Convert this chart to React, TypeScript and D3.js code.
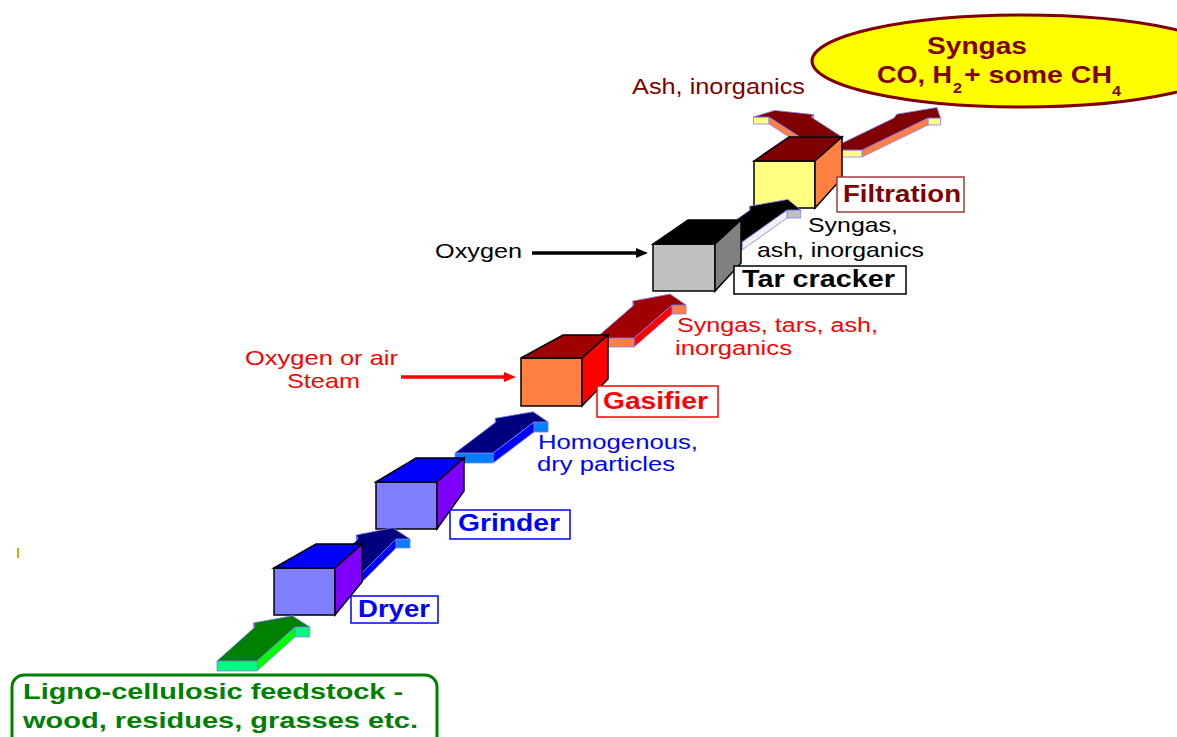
import React, { useEffect, useRef } from 'react';
import * as d3 from 'd3';

// process steps, bottom to top
const stages = ['Dryer', 'Grinder', 'Gasifier', 'Tar cracker', 'Filtration'];
// what flows out of each step
const streamLabels = [
    ['Homogenous,', 'dry particles'],
    ['Syngas, tars, ash,', 'inorganics'],
    ['Syngas,', 'ash, inorganics'],
];
const oxidantLabels = [['Oxygen or air', 'Steam'], ['Oxygen']];
const feedLabel = ['Ligno-cellulosic feedstock -', 'wood, residues, grasses etc.'];
const wasteLabel = 'Ash, inorganics';
const productTitle = 'Syngas';
const productParts = ['CO, H', '2', '+ some CH', '4'];

// ---- layout (pixels) ----
const FONT = '"Liberation Sans", Arial, sans-serif';

// front rect [x,y,w,h], back [topLeftX, topRightX, topY, bottomRightY], colours [front, top, side]
const boxGeom = [
    { f: [274, 568, 61, 47], b: [316, 362, 544, 582], c: ['#8080FF', '#0000FF', '#8000FF'] },
    { f: [376, 482, 61, 47], b: [416, 464, 458, 491], c: ['#8080FF', '#0000FF', '#8000FF'] },
    { f: [521, 358, 61, 48], b: [563, 608, 335, 379], c: ['#FF8040', '#A00000', '#FF0000'] },
    { f: [653, 244, 62, 47], b: [688, 741, 220, 263], c: ['#C0C0C0', '#000000', '#808080'] },
    { f: [754, 161, 61, 47], b: [789, 842, 137, 178], c: ['#FFFF80', '#800000', '#FF8040'] },
];

// stage label boxes [x,y,w,h], text [x, baseline, width], colour, border
const stageLabelGeom = [
    { r: [351, 596, 87, 27], t: [358, 617, 72], fill: '#0000FF', border: '#0000FF' },
    { r: [450, 510, 120, 29], t: [458, 531, 102], fill: '#0000FF', border: '#0000FF' },
    { r: [597, 386, 121, 31], t: [603, 409, 105], fill: '#FF0000', border: '#FF0000' },
    { r: [734, 266, 172, 28], t: [742, 287, 153], fill: '#000000', border: '#000000' },
    { r: [837, 177, 127, 35], t: [843, 202, 118], fill: '#800000', border: '#A03C3C' },
];

// 3D block arrow outline in (along, across) units
const arrowShape: [number, number][] = [[0, 0], [1, 0], [1.12, -0.15], [1.33, 0.62], [1, 1.37], [1, 1], [0, 1]];

const arrowGeom = {
    green: { ref: [217, 661], d: [38, -34], w: 40, th: 10, c: ['#008000', '#00FF00', '#00FF80'] },
    blue1: { ref: [324, 573], d: [34, -34], w: 38, th: 9, c: ['#000080', '#0000FF', '#0080FF'] },
    blue2: { ref: [455, 453], d: [41, -31], w: 38, th: 10, c: ['#000080', '#0000FF', '#0080FF'] },
    red: { ref: [596, 338], d: [38, -33], w: 38, th: 9, c: ['#A00000', '#FF0000', '#FF8040'] },
    black: { ref: [705, 242], d: [45, -32], w: 37, th: 8, c: ['#000000', '#F0F0F0', '#C0C0C0'] },
    outLeft: { ref: [842, 137], d: [-31, -20], w: -42, th: 7, c: ['#800000', '#FF8040', '#FFFF80'] },
    outRight: { ref: [828, 150], d: [66, -32], w: 34, th: 7, c: ['#800000', '#FF8040', '#FFFF80'] },
};

function drawArrow(g, a) {
    const line = d3.line();
    const top = arrowShape.map(([u, v]) => [a.ref[0] + u * a.d[0] + v * a.w, a.ref[1] + u * a.d[1]]);
    let area = 0;
    top.forEach((p, i) => {
        const q = top[(i + 1) % top.length];
        area += p[0] * q[1] - q[0] * p[1];
    });
    const sgn = Math.sign(area);
    top.forEach((p, i) => {
        const q = top[(i + 1) % top.length];
        const dx = q[0] - p[0], dy = q[1] - p[1];
        const ny = -dx * sgn;    // outward normal y
        if (ny <= 0) return;     // faces away, hidden under the top
        const flat = Math.abs(dy) < 0.35 * Math.abs(dx);
        g.append('path')
            .attr('d', line([p, q, [q[0], q[1] + a.th], [p[0], p[1] + a.th]]) + 'Z')
            .attr('fill', flat ? a.c[2] : a.c[1])
            .attr('stroke', '#8080FF')
            .attr('stroke-width', 0.8);
    });
    g.append('path')
        .attr('d', line(top) + 'Z')
        .attr('fill', a.c[0])
        .attr('stroke', '#8080FF')
        .attr('stroke-width', 0.8);
}

function drawBox(g, bx) {
    const [x, y, w, h] = bx.f;
    const [btl, btr, bty, bbr] = bx.b;
    const line = d3.line();
    g.append('rect').attr('x', x).attr('y', y).attr('width', w).attr('height', h)
        .attr('fill', bx.c[0]).attr('stroke', '#000').attr('stroke-width', 1.5);
    g.append('path').attr('d', line([[x, y], [btl, bty], [btr, bty], [x + w, y]]) + 'Z')
        .attr('fill', bx.c[1]).attr('stroke', '#000').attr('stroke-width', 1.5);
    g.append('path').attr('d', line([[x + w, y], [btr, bty], [btr, bbr], [x + w, y + h]]) + 'Z')
        .attr('fill', bx.c[2]).attr('stroke', '#000').attr('stroke-width', 1.5);
}

function addText(g, x, y, str, size, weight, fill, len) {
    g.append('text')
        .attr('x', x).attr('y', y)
        .attr('font-family', FONT)
        .attr('font-size', size)
        .attr('font-weight', weight)
        .attr('fill', fill)
        .attr('textLength', len)
        .attr('lengthAdjust', 'spacingAndGlyphs')
        .text(str);
}

function drawInput(g, x0, x1, y, color) {
    g.append('line').attr('x1', x0).attr('x2', x1 - 10).attr('y1', y).attr('y2', y)
        .attr('stroke', color).attr('stroke-width', 3.5);
    g.append('path').attr('d', d3.line()([[x1 - 12, y - 5], [x1, y], [x1 - 12, y + 5]]) + 'Z')
        .attr('fill', color);
}

export default function App() {
    const svgRef = useRef(null);

    useEffect(() => {
        const svg = d3.select(svgRef.current);
        svg.selectAll('*').remove();
        const g = svg.append('g');

        // product bubble
        g.append('ellipse').attr('cx', 1022).attr('cy', 61).attr('rx', 210).attr('ry', 46)
            .attr('fill', '#FFFF00').attr('stroke', '#800000').attr('stroke-width', 3);

        // back to front so the nearer parts overlap the farther ones
        drawArrow(g, arrowGeom.outLeft);
        drawArrow(g, arrowGeom.outRight);
        drawBox(g, boxGeom[4]);
        drawArrow(g, arrowGeom.black);
        drawBox(g, boxGeom[3]);
        drawArrow(g, arrowGeom.red);
        drawBox(g, boxGeom[2]);
        drawArrow(g, arrowGeom.blue2);
        drawBox(g, boxGeom[1]);
        drawArrow(g, arrowGeom.blue1);
        drawBox(g, boxGeom[0]);
        drawArrow(g, arrowGeom.green);

        drawInput(g, 532, 648, 253, '#000000');
        drawInput(g, 401, 516, 377, '#FF0000');

        // stage labels
        stages.forEach((name, i) => {
            const s = stageLabelGeom[i];
            g.append('rect').attr('x', s.r[0]).attr('y', s.r[1]).attr('width', s.r[2]).attr('height', s.r[3])
                .attr('fill', '#fff').attr('stroke', s.border).attr('stroke-width', 1.5);
            addText(g, s.t[0], s.t[1], name, 23, 'bold', s.fill, s.t[2]);
        });

        // stream labels
        addText(g, 538, 449, streamLabels[0][0], 20, 'normal', '#0000FF', 160);
        addText(g, 537, 471, streamLabels[0][1], 20, 'normal', '#0000FF', 138);
        addText(g, 677, 332, streamLabels[1][0], 20, 'normal', '#FF0000', 201);
        addText(g, 675, 355, streamLabels[1][1], 20, 'normal', '#FF0000', 117);
        addText(g, 808, 232, streamLabels[2][0], 21, 'normal', '#000000', 90);
        addText(g, 757, 257, streamLabels[2][1], 21, 'normal', '#000000', 167);

        // oxidant inputs
        addText(g, 245, 365, oxidantLabels[0][0], 21, 'normal', '#FF0000', 153);
        addText(g, 287, 388, oxidantLabels[0][1], 21, 'normal', '#FF0000', 73);
        addText(g, 435, 258, oxidantLabels[1][0], 21, 'normal', '#000000', 87);

        // outputs
        addText(g, 632, 94, wasteLabel, 22, 'normal', '#800000', 173);
        addText(g, 927, 54, productTitle, 24, 'bold', '#800000', 100);
        addText(g, 877, 83, productParts[0], 23, 'bold', '#800000', 75);
        addText(g, 953, 93, productParts[1], 15, 'bold', '#800000', 9);
        addText(g, 964, 83, productParts[2], 23, 'bold', '#800000', 148);
        addText(g, 1112, 96, productParts[3], 15, 'bold', '#800000', 9);

        // feedstock
        g.append('rect').attr('x', 12).attr('y', 675).attr('width', 425).attr('height', 90).attr('rx', 12)
            .attr('fill', 'none').attr('stroke', '#008000').attr('stroke-width', 3);
        addText(g, 23, 699, feedLabel[0], 22, 'bold', '#008000', 380);
        addText(g, 23, 728, feedLabel[1], 22, 'bold', '#008000', 395);

        // stray mark at the left edge
        g.append('line').attr('x1', 18).attr('x2', 18).attr('y1', 548).attr('y2', 558)
            .attr('stroke', '#B8B800').attr('stroke-width', 2);
    }, []);

    return (
        <svg ref={svgRef} width={1177} height={737}
            style={{ position: 'absolute', left: 0, top: 0, background: '#fff' }} />
    );
}
